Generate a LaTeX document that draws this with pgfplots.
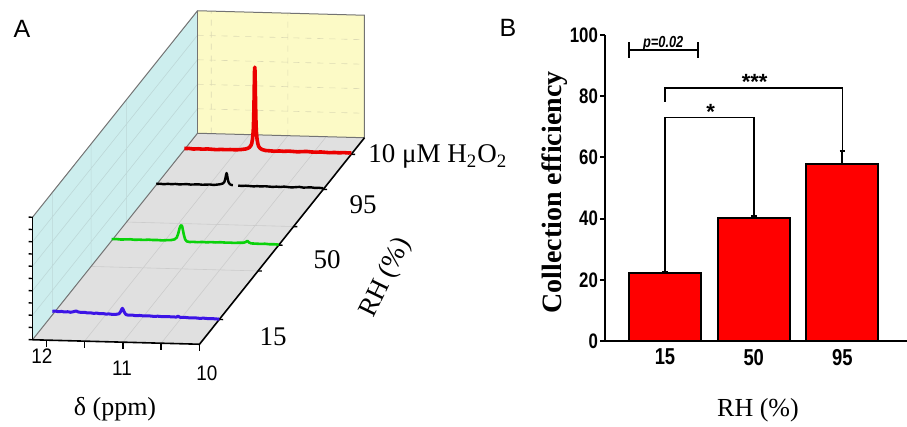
\documentclass[border=0pt]{standalone}
\usepackage{fontspec}
\setmainfont{Liberation Serif}
\newfontfamily\arial{Liberation Sans}
\newfontfamily\arialn[FakeStretch=0.8]{Liberation Sans}
\newfontfamily\arialA[FakeStretch=0.9]{Liberation Sans}
\usepackage{pgfplots}
\pgfplotsset{compat=1.18}
\usepackage{pgfplotstable}

\definecolor{wallc}{RGB}{205,238,238}
\definecolor{wally}{RGB}{252,250,198}
\definecolor{floorg}{RGB}{224,224,224}
\definecolor{tgreen}{RGB}{10,210,10}
\definecolor{tblue}{RGB}{60,20,230}
\definecolor{tred}{RGB}{235,0,0}

% NMR traces (delta in ppm, normalised intensity)
\pgfplotstableread{
ppm I
12.18 0.010
12.12 0.012
12.06 0.008
12.00 0.011
11.94 0.009
11.88 0.012
11.82 0.010
11.76 0.008
11.70 0.011
11.64 0.010
11.58 0.012
11.52 0.011
11.46 0.013
11.42 0.016
11.38 0.020
11.35 0.026
11.33 0.034
11.31 0.050
11.30 0.066
11.29 0.100
11.28 0.170
11.275 0.260
11.27 0.400
11.266 0.560
11.263 0.660
11.26 0.690
11.257 0.660
11.254 0.560
11.25 0.400
11.245 0.260
11.24 0.170
11.23 0.100
11.22 0.066
11.21 0.045
11.19 0.028
11.16 0.018
11.12 0.012
11.06 0.010
11.00 0.008
10.94 0.011
10.88 0.009
10.82 0.012
10.76 0.010
10.70 0.008
10.64 0.011
10.58 0.013
10.52 0.010
10.46 0.009
10.40 0.012
10.34 0.010
10.28 0.008
10.22 0.011
10.16 0.009
10.10 0.012
10.04 0.010
10.00 0.011
}\hperox

\pgfplotstableread{
ppm I
12.18 0.008
12.13 0.010
12.08 0.007
12.03 0.011
11.98 0.009
11.93 0.012
11.88 0.009
11.83 0.011
11.78 0.013
11.73 0.010
11.68 0.012
11.63 0.014
11.58 0.011
11.53 0.013
11.48 0.015
11.43 0.012
11.38 0.016
11.34 0.020
11.31 0.026
11.29 0.040
11.277 0.070
11.268 0.100
11.262 0.112
11.256 0.100
11.248 0.070
11.238 0.040
11.22 0.022
11.20 0.016
11.18 0.014
nan nan
11.11 0.012
11.06 0.010
11.01 0.013
10.96 0.011
10.91 0.009
10.86 0.012
10.81 0.010
10.76 0.013
10.71 0.011
10.66 0.009
10.61 0.012
10.56 0.010
10.51 0.014
10.46 0.011
10.41 0.009
10.36 0.012
10.31 0.015
10.26 0.010
10.21 0.012
10.16 0.014
10.11 0.010
10.06 0.012
10.00 0.009
}\rhninetyfive

\pgfplotstableread{
ppm I
12.18 0.012
12.12 0.014
12.06 0.011
12.00 0.013
11.94 0.015
11.88 0.012
11.82 0.014
11.76 0.013
11.70 0.016
11.64 0.014
11.58 0.015
11.52 0.013
11.46 0.016
11.40 0.018
11.36 0.024
11.33 0.040
11.31 0.075
11.295 0.115
11.28 0.138
11.27 0.140
11.26 0.132
11.25 0.100
11.235 0.055
11.22 0.025
11.20 0.010
11.16 0.006
11.12 0.008
11.06 0.006
11.00 0.009
10.94 0.007
10.88 0.010
10.82 0.008
10.76 0.011
10.70 0.009
10.64 0.010
10.58 0.008
10.52 0.011
10.46 0.012
10.43 0.018
10.41 0.028
10.39 0.016
10.36 0.008
10.30 0.007
10.24 0.006
10.18 0.008
10.12 0.005
10.06 0.006
10.00 0.004
}\rhfifty

\pgfplotstableread{
ppm I
12.18 0.030
12.14 0.032
12.10 0.028
12.06 0.031
12.02 0.027
11.98 0.030
11.94 0.026
11.90 0.032
11.87 0.038
11.84 0.030
11.80 0.027
11.76 0.029
11.72 0.024
11.68 0.026
11.64 0.022
11.60 0.025
11.56 0.021
11.52 0.023
11.48 0.019
11.44 0.021
11.40 0.018
11.35 0.019
11.31 0.024
11.29 0.040
11.275 0.060
11.265 0.070
11.255 0.060
11.24 0.038
11.22 0.020
11.19 0.015
11.14 0.017
11.10 0.013
11.04 0.015
10.98 0.012
10.92 0.014
10.86 0.011
10.80 0.013
10.74 0.010
10.68 0.012
10.62 0.011
10.56 0.010
10.54 0.017
10.51 0.009
10.44 0.009
10.38 0.006
10.32 0.008
10.26 0.005
10.20 0.007
10.14 0.004
10.08 0.005
10.02 0.003
10.00 0.004
}\rhfifteen

\begin{document}
\begin{tikzpicture}
\useasboundingbox (0,0) rectangle (453.5pt,213.5pt);

% ---------------- panel A: waterfall
\begin{axis}[
  anchor=origin, at={(99.75pt,41.375pt)},
  x={(-38.3pt,1.03pt)}, y={(82.5pt,103.25pt)}, z={(0pt,61.25pt)},
  xmin=10, xmax=12.18, ymin=0, ymax=1, zmin=0, zmax=1,
  hide axis, clip=false, unbounded coords=jump, no markers,
]
% floor and walls
\addplot3[fill=floorg, draw=none] coordinates {(12.18,0,0) (10,0,0) (10,1,0) (12.18,1,0)};
\addplot3[fill=wallc, draw=none] coordinates {(12.18,0,0) (12.18,1,0) (12.18,1,1) (12.18,0,1)};
\addplot3[fill=wally, draw=none] coordinates {(12.18,1,0) (10,1,0) (10,1,1) (12.18,1,1)};
% faint grids
\addplot3[black!20, line width=0.3pt] coordinates {
  (11.5,0,0) (11.5,1,0) (nan,nan,nan) (11,0,0) (11,1,0) (nan,nan,nan) (10.5,0,0) (10.5,1,0)
  (nan,nan,nan) (12.18,0.355,0) (10,0.355,0) (nan,nan,nan) (12.18,0.57,0) (10,0.57,0)};
\addplot3[wallc!80!gray, line width=0.3pt] coordinates {
  (12.18,0,0.2) (12.18,1,0.2) (nan,nan,nan) (12.18,0,0.4) (12.18,1,0.4) (nan,nan,nan)
  (12.18,0,0.6) (12.18,1,0.6) (nan,nan,nan) (12.18,0,0.8) (12.18,1,0.8) (nan,nan,nan)
  (12.18,0.12,0) (12.18,0.12,1) (nan,nan,nan) (12.18,0.355,0) (12.18,0.355,1) (nan,nan,nan)
  (12.18,0.57,0) (12.18,0.57,1)};
\addplot3[wally!75!gray, line width=0.3pt, dashed] coordinates {
  (12.18,1,0.2) (10,1,0.2) (nan,nan,nan) (12.18,1,0.4) (10,1,0.4) (nan,nan,nan)
  (12.18,1,0.6) (10,1,0.6) (nan,nan,nan) (12.18,1,0.8) (10,1,0.8) (nan,nan,nan)
  (12,1,0) (12,1,1) (nan,nan,nan) (11,1,0) (11,1,1)};
% thin box edges
\addplot3[black!55, line width=0.5pt] coordinates {
  (12.18,0,1) (12.18,1,1) (10,1,1) (10,1,0) (12.18,1,0) (12.18,0,0)};
\addplot3[black!55, line width=0.5pt] coordinates {(12.18,1,0) (12.18,1,1)};
% axis edges with ticks
\addplot3[black, line width=0.9pt] coordinates {(12.18,0,0) (12.18,0,1)};
\addplot3[black, line width=0.8pt] coordinates {(12.18,0,0) (10,0,0) (10,1,0)};
\addplot3[black, line width=0.7pt] coordinates {
  (12.18,0,0) (12.23,0,0) (nan,nan,nan) (12.18,0,0.1) (12.23,0,0.1) (nan,nan,nan)
  (12.18,0,0.2) (12.23,0,0.2) (nan,nan,nan) (12.18,0,0.3) (12.23,0,0.3) (nan,nan,nan)
  (12.18,0,0.4) (12.23,0,0.4) (nan,nan,nan) (12.18,0,0.5) (12.23,0,0.5) (nan,nan,nan)
  (12.18,0,0.6) (12.23,0,0.6) (nan,nan,nan) (12.18,0,0.7) (12.23,0,0.7) (nan,nan,nan)
  (12.18,0,0.8) (12.23,0,0.8) (nan,nan,nan) (12.18,0,0.9) (12.23,0,0.9) (nan,nan,nan)
  (12.18,0,1) (12.23,0,1)};
\addplot3[black, line width=0.7pt] coordinates {
  (12,0,0) (12,0,-0.055) (nan,nan,nan) (11.5,0,0) (11.5,0,-0.055) (nan,nan,nan)
  (11,0,0) (11,0,-0.055) (nan,nan,nan) (10.5,0,0) (10.5,0,-0.055) (nan,nan,nan)
  (10,0,0) (10,0,-0.055)};
\addplot3[black, line width=0.7pt] coordinates {
  (10,0.12,0) (9.95,0.12,0) (nan,nan,nan) (10,0.355,0) (9.95,0.355,0) (nan,nan,nan)
  (10,0.48,0) (9.95,0.48,0) (nan,nan,nan) (10,0.57,0) (9.95,0.57,0) (nan,nan,nan)
  (10,0.75,0) (9.95,0.75,0) (nan,nan,nan) (10,0.92,0) (9.95,0.92,0)};
% spectra
\addplot3[tred, line width=1.8pt, line join=round] table[x=ppm, y expr=0.92, z=I] {\hperox};
\addplot3[black, line width=1.2pt, line join=round] table[x=ppm, y expr=0.75, z=I] {\rhninetyfive};
\addplot3[tgreen, line width=1.3pt, line join=round] table[x=ppm, y expr=0.48, z=I] {\rhfifty};
\addplot3[tblue, line width=1.5pt, line join=round] table[x=ppm, y expr=0.12, z=I] {\rhfifteen};
\end{axis}

% ---------------- panel B: bars
\begin{axis}[
  at={(302.5pt,43pt)}, anchor=south west,
  scale only axis, width=151pt, height=153pt,
  xmin=-0.676, xmax=2.727, ymin=0, ymax=100,
  axis lines*=left, axis line style={-, line width=1pt},
  xtick={0,1,2}, xticklabels={15,50,95},
  ytick={0,20,40,60,80,100}, yticklabels={0,20,40,60,80,100},
  major x tick style={draw=none},
  tick align=outside, major tick length=2.5pt,
  tick style={black, line width=1pt},
  xticklabel style={yshift=2pt, font=\arialn\bfseries\fontsize{11.5}{12}\selectfont},
  yticklabel style={xshift=2.5pt, font=\arialn\bfseries\fontsize{10.5}{11}\selectfont},
  clip=false,
]
\addplot[ybar, bar width=36pt, bar shift=0pt, fill=red, draw=black, line width=1pt,
  error bars/.cd, y dir=plus, y explicit,
  error bar style={black, line width=1pt},
  error mark options={black, rotate=90, mark size=1.4pt, line width=1pt}]
  coordinates {(0,22.2) +- (0,0.3) (1,40.2) +- (0,0.6) (2,57.8) +- (0,4.3)};
% significance brackets
\addplot[black, line width=0.8pt, sharp plot] coordinates {(0,23.0) (0,73.1) (1,73.1) (1,41.2)};
\addplot[black, line width=0.8pt, sharp plot] coordinates {(0,78.2) (0,82.6) (2,82.6) (2,62.5)};
\addplot[black, line width=0.8pt, sharp plot] coordinates {(-0.406,95.1) (0.372,95.1)};
\addplot[black, line width=0.8pt, sharp plot] coordinates {(-0.406,92.6) (-0.406,97.6)};
\addplot[black, line width=0.8pt, sharp plot] coordinates {(0.372,92.6) (0.372,97.6)};
\node[font=\arial\bfseries\fontsize{11}{11}\selectfont] at (axis cs:0.515,75.0) {*};
\node[font=\arial\bfseries\fontsize{11}{11}\selectfont] at (axis cs:1.01,84.8) {***};
\node[anchor=base, inner sep=0pt, font=\arialn\bfseries\itshape\fontsize{8}{8}\selectfont]
  at (axis cs:-0.02,96.0) {p=0.02};
\end{axis}

% ---------------- texts
\node[font=\arial\fontsize{12.5}{13}\selectfont] at (11pt,199pt) {A};
\node[font=\arial\fontsize{12.5}{13}\selectfont] at (254pt,199.5pt) {B};
\node[font=\arialA\fontsize{10.5}{11}\selectfont] at (21pt,35.5pt) {12};
\node[font=\arialA\fontsize{10.5}{11}\selectfont] at (61pt,29.5pt) {11};
\node[font=\arialA\fontsize{10.5}{11}\selectfont] at (103.5pt,27pt) {10};
\node[font=\fontsize{13}{14}\selectfont] at (57.5pt,8.75pt) {δ (ppm)};
\node[font=\fontsize{13.5}{14}\selectfont] at (136.5pt,45pt) {15};
\node[font=\fontsize{13.5}{14}\selectfont] at (163.5pt,83.5pt) {50};
\node[font=\fontsize{13.5}{14}\selectfont] at (181.5pt,111pt) {95};
\node[anchor=base west, inner sep=0pt, font=\fontsize{13.5}{14}\selectfont]
  at (184pt,132pt) {10 μM H\textsubscript{2}O\textsubscript{2}};
\node[rotate=64, inner sep=0pt, font=\fontsize{13.5}{14}\selectfont] at (193pt,74.5pt) {RH (\%)};
\node[rotate=90, font=\bfseries\fontsize{14}{15}\selectfont] at (277.5pt,117.25pt) {Collection efficiency};
\node[font=\fontsize{13}{14}\selectfont] at (379pt,8.5pt) {RH (\%)};
\end{tikzpicture}
\end{document}
